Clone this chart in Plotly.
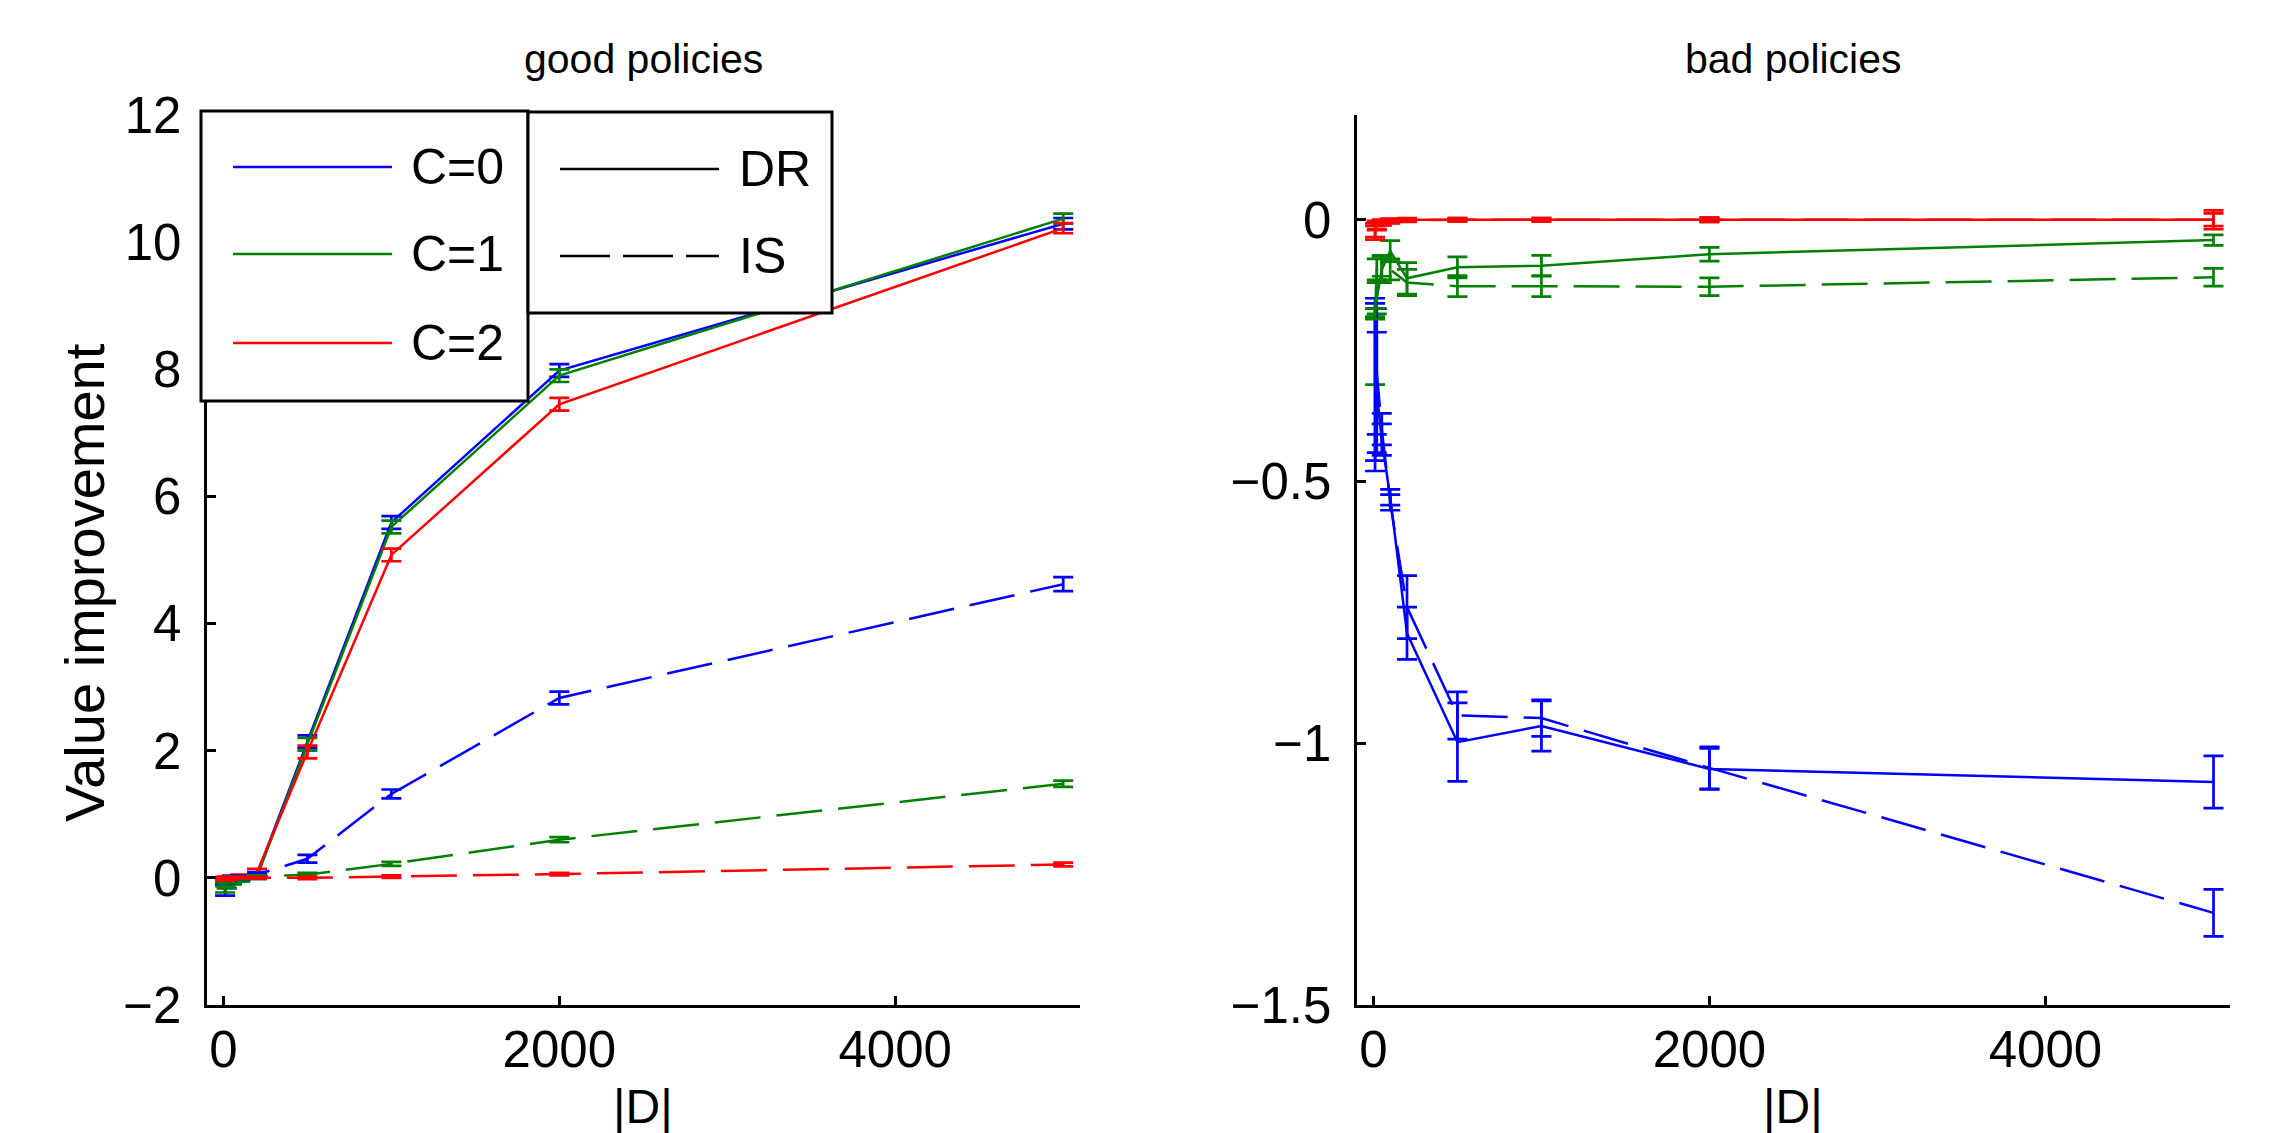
import plotly.graph_objects as go

# ---------------- data ----------------
D = [10, 20, 50, 100, 200, 500, 1000, 2000, 5000]
c_labels = ["C=0", "C=1", "C=2"]
m_labels = ["DR", "IS"]
colors = ["#0000FF", "#008000", "#FF0000"]
x_ticks = [0, 2000, 4000]
good_y_ticks = [-2, 0, 2, 4, 6, 8, 10, 12]
bad_y_ticks = [-1.5, -1, -0.5, 0]
bad_y_ticklabels = ["\u22121.5", "\u22121", "\u22120.5", "0"]

# good policies
good_dr_c0 = [-0.20, -0.10, -0.05, 0.00, 0.05, 2.14, 5.59, 7.98, 10.29]
good_dr_c0_err = [0.08, 0.06, 0.05, 0.04, 0.04, 0.10, 0.10, 0.10, 0.09]
good_dr_c1 = [-0.15, -0.10, -0.05, -0.02, 0.02, 2.10, 5.52, 7.90, 10.37]
good_dr_c1_err = [0.08, 0.06, 0.05, 0.04, 0.04, 0.10, 0.10, 0.10, 0.08]
good_dr_c2 = [-0.02, -0.01, 0.00, 0.02, 0.09, 1.98, 5.08, 7.45, 10.22]
good_dr_c2_err = [0.03, 0.03, 0.03, 0.03, 0.05, 0.10, 0.10, 0.10, 0.08]
good_is_c0 = [-0.05, -0.03, 0.00, 0.00, 0.05, 0.30, 1.32, 2.83, 4.62]
good_is_c0_err = [0.04, 0.03, 0.03, 0.03, 0.03, 0.06, 0.07, 0.10, 0.11]
good_is_c1 = [-0.10, -0.05, 0.00, 0.00, 0.02, 0.05, 0.22, 0.60, 1.48]
good_is_c1_err = [0.03, 0.03, 0.02, 0.02, 0.02, 0.03, 0.03, 0.04, 0.05]
good_is_c2 = [-0.02, -0.01, 0.00, 0.00, 0.00, 0.00, 0.02, 0.06, 0.21]
good_is_c2_err = [0.02, 0.02, 0.01, 0.01, 0.01, 0.02, 0.02, 0.02, 0.03]

# bad policies
bad_dr_c0 = [-0.315, -0.33, -0.42, -0.53, -0.79, -0.998, -0.967, -1.049, -1.074]
bad_dr_c0_err = [0.165, 0.115, 0.03, 0.015, 0.05, 0.075, 0.048, 0.039, 0.05]
bad_dr_c1 = [-0.25, -0.15, -0.095, -0.06, -0.112, -0.091, -0.088, -0.066, -0.039]
bad_dr_c1_err = [0.065, 0.03, 0.025, 0.02, 0.03, 0.02, 0.02, 0.013, 0.01]
bad_dr_c2 = [-0.02, -0.01, -0.005, -0.002, 0.0, 0.0, 0.0, 0.0, 0.0]
bad_dr_c2_err = [0.013, 0.008, 0.005, 0.004, 0.003, 0.003, 0.003, 0.004, 0.018]
bad_is_c0 = [-0.31, -0.29, -0.40, -0.54, -0.74, -0.947, -0.952, -1.047, -1.324]
bad_is_c0_err = [0.15, 0.12, 0.03, 0.015, 0.06, 0.045, 0.035, 0.04, 0.045]
bad_is_c1 = [-0.18, -0.095, -0.088, -0.095, -0.12, -0.127, -0.127, -0.128, -0.11]
bad_is_c1_err = [0.01, 0.02, 0.02, 0.02, 0.025, 0.02, 0.02, 0.017, 0.017]
bad_is_c2 = [-0.025, -0.012, -0.006, -0.003, -0.001, 0.0, 0.0, 0.0, 0.0]
bad_is_c2_err = [0.013, 0.008, 0.005, 0.004, 0.003, 0.003, 0.003, 0.004, 0.012]

good_dr = [(good_dr_c0, good_dr_c0_err), (good_dr_c1, good_dr_c1_err), (good_dr_c2, good_dr_c2_err)]
good_is = [(good_is_c0, good_is_c0_err), (good_is_c1, good_is_c1_err), (good_is_c2, good_is_c2_err)]
bad_dr = [(bad_dr_c0, bad_dr_c0_err), (bad_dr_c1, bad_dr_c1_err), (bad_dr_c2, bad_dr_c2_err)]
bad_is = [(bad_is_c0, bad_is_c0_err), (bad_is_c1, bad_is_c1_err), (bad_is_c2, bad_is_c2_err)]

# ---------------- figure ----------------
W, H = 2274, 1133
FONT = "Liberation Sans, Arial, Helvetica, sans-serif"
DASH = "46px,16px"

def px(x):
    return x / W

def py(y):
    return 1 - y / H

fig = go.Figure()

def add_series(sets, dash, xa, ya, method):
    for i, (vals, errs) in enumerate(sets):
        fig.add_trace(go.Scatter(
            x=D, y=vals, mode="lines", xaxis=xa, yaxis=ya,
            name=f"{c_labels[i]} {method}", showlegend=False,
            line=dict(color=colors[i], width=2.5, dash=dash),
            error_y=dict(type="data", array=errs, visible=True,
                         color=colors[i], thickness=2.7, width=10),
        ))

add_series(good_dr, "solid", "x", "y", "DR")
add_series(good_is, DASH, "x", "y", "IS")
add_series(bad_dr, "solid", "x2", "y2", "DR")
add_series(bad_is, DASH, "x2", "y2", "IS")

axis_common = dict(
    showline=True, linecolor="black", linewidth=3, mirror=False,
    ticks="inside", ticklen=9, tickwidth=3, tickcolor="black",
    showgrid=False, zeroline=False, automargin=False,
    tickfont=dict(family=FONT, size=51, color="black"),
)

TOP, BOTTOM = 107, 997
y_dom = [py(BOTTOM), py(TOP)]
fig.update_layout(
    template="none",
    width=W, height=H,
    margin=dict(l=0, r=0, t=0, b=0),
    paper_bgcolor="white", plot_bgcolor="white",
    showlegend=False,
    xaxis=dict(domain=[px(198.6), px(1072)], range=[-100, 5100],
               tickvals=x_ticks, anchor="y", ticklabelstandoff=-2, **axis_common),
    yaxis=dict(domain=y_dom, range=[-2, 12], tickvals=good_y_ticks,
               anchor="x", ticklabelstandoff=12, **axis_common),
    xaxis2=dict(domain=[px(1348.6), px(2222.3)], range=[-100, 5100],
                tickvals=x_ticks, anchor="y2", ticklabelstandoff=-2, **axis_common),
    yaxis2=dict(domain=y_dom, range=[-1.5, 0.2], tickvals=bad_y_ticks,
                ticktext=bad_y_ticklabels, anchor="x2", ticklabelstandoff=12, **axis_common),
)

# titles and axis labels
ann = [
    dict(text="good policies", x=px(635), y=py(51), size=41),
    dict(text="bad policies", x=px(1785), y=py(51), size=41),
    dict(text="|D|", x=px(635), y=py(1098), size=48),
    dict(text="|D|", x=px(1785), y=py(1098), size=48),
]
for a in ann:
    fig.add_annotation(text=a["text"], x=a["x"], y=a["y"], xref="paper", yref="paper",
                       xanchor="center", yanchor="middle", showarrow=False,
                       font=dict(family=FONT, size=a["size"], color="black"))
fig.add_annotation(text="Value improvement", x=px(76), y=py(575), xref="paper", yref="paper",
                   xanchor="center", yanchor="middle", showarrow=False, textangle=-90,
                   font=dict(family=FONT, size=56, color="black"))

# legends (two boxed legends inside the left panel)
shapes = []
shapes.append(dict(type="rect", xref="paper", yref="paper",
                   x0=px(193), x1=px(520), y0=py(393), y1=py(103),
                   line=dict(color="black", width=3), fillcolor="white", layer="above"))
shapes.append(dict(type="rect", xref="paper", yref="paper",
                   x0=px(520), x1=px(824), y0=py(305), y1=py(104),
                   line=dict(color="black", width=3), fillcolor="white", layer="above"))
rows1 = [159, 246, 335]
for i, lab in enumerate(c_labels):
    shapes.append(dict(type="line", xref="paper", yref="paper",
                       x0=px(225), x1=px(384), y0=py(rows1[i]), y1=py(rows1[i]),
                       line=dict(color=colors[i], width=2.5), layer="above"))
    fig.add_annotation(text=lab, x=px(401), y=py(rows1[i]), xref="paper", yref="paper",
                       xanchor="left", yanchor="middle", showarrow=False,
                       font=dict(family=FONT, size=50, color="black"))
rows2 = [161, 248]
dashes = ["solid", "50px,13px"]
for i, lab in enumerate(m_labels):
    shapes.append(dict(type="line", xref="paper", yref="paper",
                       x0=px(552), x1=px(711), y0=py(rows2[i]), y1=py(rows2[i]),
                       line=dict(color="black", width=2.5, dash=dashes[i]), layer="above"))
    fig.add_annotation(text=lab, x=px(729), y=py(rows2[i]), xref="paper", yref="paper",
                       xanchor="left", yanchor="middle", showarrow=False,
                       font=dict(family=FONT, size=50, color="black"))
fig.update_layout(shapes=shapes)

fig.write_html("out.html")
